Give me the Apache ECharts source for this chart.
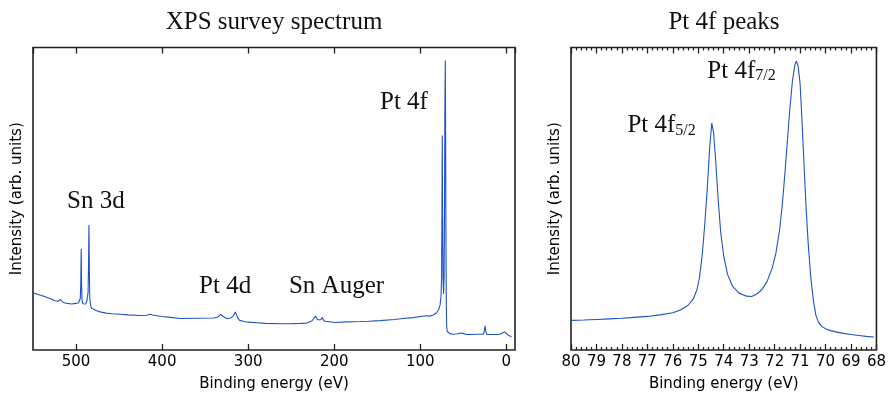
<!DOCTYPE html>
<html><head><meta charset="utf-8">
<script src="https://cdn.jsdelivr.net/npm/echarts@6/dist/echarts.min.js"></script>
<style>html,body{margin:0;padding:0;background:#fff}#c{width:889px;height:397px}</style>
</head><body><div id="c"></div>
<script>
// ---- Survey spectrum (binding energy in eV, intensity in arb. units) ----
const surveyEnergy = [550,545,540,535,532,530,528,525,521,518,515,510,505,500,497,495,494.5,494,493.5,493,492,491,489,487.5,486,485.5,485,484.5,484,483,482,480,476,472,465,458,449,440,426,418,414,410,400,390,379,360,340,335,332,330.5,328.5,325,320,317,315,313.5,312,310,305,300,290,280,263,250,240,232,226,224,221.6,219.5,217.4,215.5,214,212,210.8,200,185.6,170,160,147,130,120,108,100,93,89,85,81,78.5,77,76,75.3,74.9,74.5,74.1,73.6,73,72.4,71.9,71.5,71,70.6,70.2,69.8,69.4,68.8,68,66,62,57,54,52,49,46,40,35,30,27,25.8,24.8,23.8,22.5,18,12,7.8,4.5,2,0,-2,-4,-6];
const surveyIntensity = [18.9,18.4,18.0,17.5,17.2,17.4,16.8,16.3,16.1,16.7,15.7,15.4,15.2,15.4,15.6,17.2,22,33.4,21,16.2,15.3,15.1,15.2,16.0,19,28,41.3,26,17,14.6,13.8,13.4,13.0,12.6,12.2,12.0,11.8,11.6,11.4,11.5,11.8,11.5,11.1,10.8,10.4,10.5,10.6,10.9,11.8,12.1,11.0,10.4,10.6,11.3,12.6,12.4,10.6,9.8,9.4,9.2,9.0,8.8,8.7,8.7,8.8,8.9,9.6,10.4,11.2,10.0,9.5,10.0,10.8,9.6,9.0,9.1,9.3,9.4,9.5,9.7,10.1,10.4,10.7,11.1,11.3,11.2,11.6,12.3,13.5,15.0,17.5,24,45,70.9,45,24,18.5,24,45,78,95.7,70,35,15,8,6.2,5.6,5.4,5.2,5.3,5.6,5.8,5.4,5.1,5.1,5.2,5.2,5.2,6.0,8.0,6.0,5.1,5.1,5.1,5.2,5.6,6.0,5.5,4.9,4.6,4.4];
const surveyTickValues = [0,100,200,300,400,500];
const surveyPeakNames = ['Sn 3d','Pt 4d','Sn Auger','Pt 4f'];

// ---- Pt 4f high resolution ----
const pt4fEnergy = [80,79.5,79,78.5,78,77.5,77,76.5,76,75.7,75.4,75.2,75.05,74.95,74.85,74.75,74.65,74.55,74.47,74.4,74.32,74.22,74.12,74.0,73.85,73.65,73.4,73.1,72.9,72.7,72.5,72.3,72.1,71.95,71.8,71.7,71.6,71.5,71.4,71.3,71.2,71.14,71.07,71.0,70.92,70.85,70.77,70.68,70.58,70.48,70.38,70.28,70.15,70.0,69.8,69.55,69.3,69.0,68.7,68.4,68.1];
const pt4fIntensity = [9.8,9.9,10.1,10.3,10.5,10.8,11.1,11.6,12.3,13.2,14.8,16.8,20,24,31,41,53,67,75.0,72,63,50,39,31,25,21,18.8,17.8,17.7,18.5,20.0,22.6,27,32,40,48,58,69,80,89,94.5,95.5,93.5,88,75,62,48,35,24,16.5,11.5,9.2,7.8,7.0,6.4,5.9,5.5,5.1,4.8,4.5,4.3];
const pt4fPeakNames = ['{m|Pt 4f}{s|5/2}','{m|Pt 4f}{s|7/2}'];

const surveyData = surveyEnergy.map((e,i)=>[e,surveyIntensity[i]]);
const pt4fData = pt4fEnergy.map((e,i)=>[e,pt4fIntensity[i]]);

const FRAME = '#222';
const LINE = '#1f52c4';
const SANS = 'DejaVu Sans';
const SERIF = 'Liberation Serif';
const tickStyle = {color: FRAME, width: 1.3};
const annLabel = {
  show: true, position: 'inside', color: '#111',
  fontFamily: SERIF, fontSize: 25,
  rich: {
    m: {fontFamily: SERIF, fontSize: 25, lineHeight: 26, color: '#111'},
    s: {fontFamily: SERIF, fontSize: 16, lineHeight: 7, verticalAlign: 'bottom', color: '#111'}
  },
  formatter: p => p.name
};

function xAx(grid, min, max, pos, extra) {
  return Object.assign({
    gridIndex: grid, type: 'value', min: min, max: max, inverse: true, position: pos,
    axisLine: {show: false},
    axisTick: {show: true, inside: true, length: 6, lineStyle: tickStyle},
    axisLabel: pos === 'bottom'
      ? {show: true, fontFamily: SANS, fontSize: 15, color: '#000', margin: 5}
      : {show: false},
    splitLine: {show: false},
    name: pos === 'bottom' ? 'Binding energy (eV)' : '',
    nameLocation: 'middle', nameGap: 27,
    nameTextStyle: {fontFamily: SANS, fontSize: 15, color: '#000'}
  }, extra || {});
}
function yAx(grid) {
  return {
    gridIndex: grid, type: 'value', min: 0, max: 100,
    axisLine: {show: false}, axisTick: {show: false}, axisLabel: {show: false}, splitLine: {show: false},
    name: 'Intensity (arb. units)', nameLocation: 'middle', nameGap: 8,
    nameTextStyle: {fontFamily: SANS, fontSize: 15, color: '#000'}
  };
}
const surveyLabelFmt = v => surveyTickValues.indexOf(v) >= 0 ? String(v) : '';
const surveyExtra = {minInterval: 100, maxInterval: 100,
  axisLabel: {show: true, fontFamily: SANS, fontSize: 15, color: '#000', margin: 5, formatter: surveyLabelFmt, showMinLabel: false, showMaxLabel: false}};
const surveyTopExtra = {minInterval: 100, maxInterval: 100};
const ptMinor = {interval: 1, minorTick: {show: true, splitNumber: 5, length: 3, lineStyle: tickStyle}};

const chart = echarts.init(document.getElementById('c'), null, {renderer: 'canvas'});
chart.setOption({
  animation: false,
  backgroundColor: '#fff',
  grid: [
    {left: 33, top: 47.5, width: 482, height: 304, show: true, borderColor: FRAME, borderWidth: 1.6, backgroundColor: 'transparent'},
    {left: 571, top: 47.5, width: 306, height: 303.5, show: true, borderColor: FRAME, borderWidth: 1.6, backgroundColor: 'transparent'}
  ],
  xAxis: [
    xAx(0, -10, 550, 'bottom', surveyExtra),
    xAx(0, -10, 550, 'top', surveyTopExtra),
    xAx(1, 68, 80, 'bottom', ptMinor),
    xAx(1, 68, 80, 'top', ptMinor)
  ],
  yAxis: [yAx(0), yAx(1)],
  graphic: [
    {type: 'text', x: 274, y: 22, style: {text: 'XPS survey spectrum', font: '25px "Liberation Serif"', fill: '#111', align: 'center', verticalAlign: 'middle'}},
    {type: 'text', x: 724, y: 22, style: {text: 'Pt 4f peaks', font: '25px "Liberation Serif"', fill: '#111', align: 'center', verticalAlign: 'middle'}}
  ],
  series: [
    {type: 'line', xAxisIndex: 0, yAxisIndex: 0, data: surveyData, showSymbol: false, symbol: 'none',
     lineStyle: {color: LINE, width: 1.1}, itemStyle: {color: LINE},
     markPoint: {symbol: 'circle', symbolSize: 0, label: annLabel, silent: true,
       data: [
         {name: surveyPeakNames[0], coord: [477, 49.2]},
         {name: surveyPeakNames[1], coord: [326.8, 20.9]},
         {name: surveyPeakNames[2], coord: [197.4, 20.9]},
         {name: surveyPeakNames[3], coord: [119, 81.7]}
       ]}},
    {type: 'line', xAxisIndex: 2, yAxisIndex: 1, data: pt4fData, showSymbol: false, symbol: 'none',
     lineStyle: {color: LINE, width: 1.1}, itemStyle: {color: LINE},
     markPoint: {symbol: 'circle', symbolSize: 0, label: annLabel, silent: true,
       data: [
         {name: pt4fPeakNames[0], coord: [76.44, 74.1]},
         {name: pt4fPeakNames[1], coord: [73.3, 92.2]}
       ]}}
  ]
});
</script></body></html>
